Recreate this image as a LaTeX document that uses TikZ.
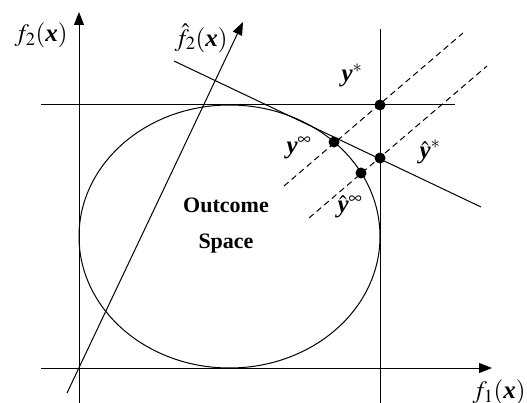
\documentclass[tikz,border=0pt]{standalone}
\usepackage{amsmath}
\usepackage{mathptmx}
\usepackage{fontspec}
\setmainfont{Liberation Serif}
\usetikzlibrary{arrows.meta}
\newcommand{\bvx}{\text{\bfseries\itshape x}}
\newcommand{\bvy}{\text{\bfseries\itshape y}}

\begin{document}
\begin{tikzpicture}[x=1pt,y=-1pt,line width=1pt,
  axis/.style={-{Triangle[length=13pt,width=10pt]}},
  dashline/.style={dash pattern=on 6pt off 4pt},
  pt/.style={circle,fill,inner sep=0pt,minimum size=11pt},
  lbl/.style={font=\fontsize{25}{30}\selectfont,inner sep=0pt}
]
\useasboundingbox (0,0) rectangle (527,403);
% axes and bounds
\coordinate (f2b) at (79,403);  \coordinate (f2t) at (79,12);
\coordinate (f1l) at (41,368);  \coordinate (f1r) at (492,368);
\coordinate (hl) at (41,105);   \coordinate (hr) at (455,105);
\coordinate (vt) at (380,29);   \coordinate (vb) at (380,403);
\coordinate (g2b) at (67,393);  \coordinate (g2t) at (243,22);
\coordinate (tl) at (174,61);   \coordinate (tr) at (481,207);
\coordinate (d1b) at (284,186); \coordinate (d1t) at (463,33);
\coordinate (d2b) at (309,218); \coordinate (d2t) at (487,66);
\draw[axis] (f2b) -- (f2t);
\draw[axis] (f1l) -- (f1r);
\draw (hl) -- (hr);
\draw (vt) -- (vb);
\draw[axis] (g2b) -- (g2t);
\draw (tl) -- (tr);
\draw[dashline] (d1b) -- (d1t);
\draw[dashline] (d2b) -- (d2t);
% outcome space
\draw (229.5,236.5) ellipse [x radius=150.5pt, y radius=131.5pt];
\node[font=\bfseries\fontsize{22}{36}\selectfont,align=center] (os) at (226,226) {Outcome\\Space};
% points
\node[pt] (ys) at (380,105) {};
\node[pt] (yhs) at (380,158) {};
\node[pt] (yi) at (334,142) {};
\node[pt] (yhi) at (361,173) {};
% labels
\node[lbl] (lf2) at (41,35) {$f_2(\bvx)$};
\node[lbl] (lg2) at (201,38) {$\hat{f}_2(\bvx)$};
\node[lbl] (lf1) at (499,392) {$f_1(\bvx)$};
\node[lbl] (lys) at (352,75) {$\bvy^{*}$};
\node[lbl] (lyi) at (299,148) {$\bvy^{\infty}$};
\node[lbl] (lyhs) at (430,152) {$\hat{\bvy}^{*}$};
\node[lbl] (lyhi) at (350,207) {$\hat{\bvy}^{\infty}$};
\end{tikzpicture}
\end{document}
